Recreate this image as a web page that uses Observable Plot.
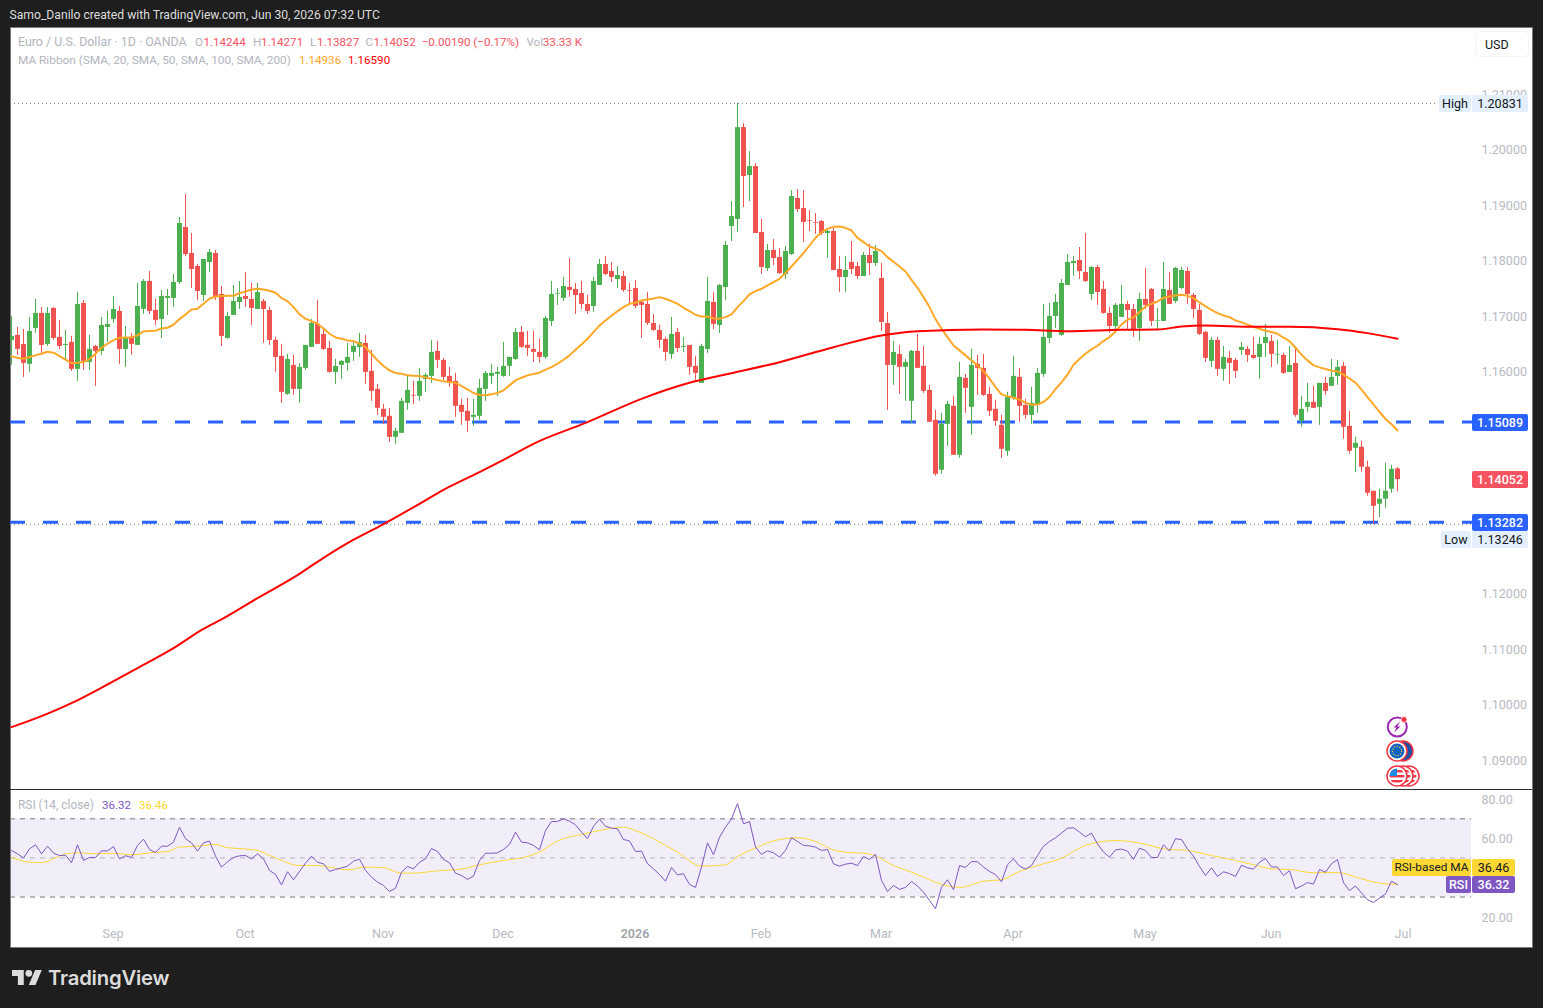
<!DOCTYPE html>
<html><head><meta charset="utf-8">
<script src="https://cdn.jsdelivr.net/npm/d3@7"></script>
<script src="https://cdn.jsdelivr.net/npm/@observablehq/plot@0.6"></script>
<style>
html,body{margin:0;padding:0;background:#1e1e1e;width:1543px;height:1008px;overflow:hidden;font-family:Roboto,sans-serif}
#stage{position:relative;width:1543px;height:1008px}
.abs{position:absolute;white-space:nowrap}
.tag{position:absolute;height:17px;line-height:17px;text-align:center;font-size:12.5px;border-radius:2px;white-space:nowrap}
svg{display:block}
</style></head><body><div id="stage"></div>
<script>
// price series, in units of 0.00001
const high=[116992,116794,116758,116974,117298,117154,117154,117154,116920,116740,116632,117424,117280,116650,116470,116974,117082,117352,117172,116812,116686,117586,117658,117802,117298,117460,117478,117748,118774,119188,118486,117928,118018,118198,118180,117532,117064,117550,117622,117784,117586,117586,117298,117154,116614,116488,116308,116290,116146,116470,116938,117280,116758,116542,116218,116200,116506,116524,116686,116650,116380,115768,115408,115336,114976,115516,115930,115822,116056,115966,116560,116542,116236,116074,115966,115498,115516,115498,115858,116002,116128,116074,116524,116254,116776,116812,116722,116722,116578,116992,117622,117496,117694,118036,117586,117622,117370,117694,118018,118072,117964,117892,117802,117586,117640,117280,117424,117028,116830,116614,116974,116776,116614,116470,116272,116488,117694,117424,117568,118342,119062,120831,120466,119962,119746,118738,118288,118378,118216,118252,119260,119278,119260,118900,118846,118720,118540,118576,118072,118072,118342,117964,118144,118288,118270,117946,117064,116542,116470,116218,116380,116668,116452,115750,115300,115246,115462,115552,116164,115948,116398,116290,116308,115714,115480,115210,115624,116272,116056,115498,115714,116056,117208,117226,117388,117658,118108,118072,118234,118486,117892,117910,117622,117154,117226,117550,117262,117208,117406,117856,117496,117136,117964,117784,117874,117874,117874,117406,117208,116722,116614,116614,116452,116362,116236,116524,116452,116614,116614,116848,116650,116560,116326,116452,116434,115552,115786,115732,115786,115894,116218,116200,116164,115282,114814,114742,114382,113842,113878,114346,114310,114271];
const low=[116110,116290,115894,115984,116686,116308,116452,116560,116398,116200,116002,115822,116020,116020,115732,116290,116524,116866,116128,116074,116290,116470,117028,117028,116830,116596,117010,117154,117568,118072,117496,117280,117262,117784,117280,116452,116578,117010,117118,117154,116830,117118,116506,116470,115984,115426,115570,115570,115426,116020,116434,116488,116380,115966,115768,115858,116002,116182,116254,115768,115462,115210,115048,114724,114688,114886,115300,115408,115462,115624,115786,116056,115840,115714,115174,115030,114904,115012,115120,115462,115768,115552,115894,115912,116200,116416,116272,116164,116146,116218,116812,117190,117262,117334,117028,117118,117028,117064,117550,117730,117604,117496,117424,117226,117136,116596,116830,116722,116416,116182,116218,116344,116344,115930,115840,115786,116326,116758,116686,117280,118342,118504,118954,119062,118486,117748,117802,117910,117748,117658,118090,118864,118324,118522,118468,118450,118036,117820,117424,117424,117748,117658,117712,117730,117892,116722,115300,115750,115588,115462,115060,116056,115606,115084,114112,114148,114652,114490,114436,115246,114850,115570,115552,115192,115012,114436,114472,115480,115084,115138,115048,115246,115894,116506,116776,116632,117550,117712,117658,117604,117280,117190,117028,116686,116722,116974,116758,116614,116542,117118,116812,116758,116902,117208,117226,117478,117208,116956,116650,116164,116074,115912,115822,115768,115876,116290,116164,116218,115858,116254,116074,116128,115948,115984,115174,114994,115264,115336,115030,115570,115732,115750,114778,114508,114184,114184,113752,113246,113368,113536,113806,113827];
const open=[116560,116650,116488,116128,116776,117046,116488,117136,116614,116470,116524,116038,117226,116164,116452,116362,116794,116938,117082,116398,116614,116470,117118,117622,117100,116938,117316,117316,117604,118594,118126,117892,117370,117964,118126,117388,116596,117010,117244,117352,117298,117118,117262,117100,116560,116272,115588,116110,115678,116056,116434,116848,116668,116416,115984,116110,116146,116344,116434,116506,116002,115678,115318,115192,114814,114886,115426,115570,115552,115858,115912,116362,116200,115912,115822,115390,115282,115174,115192,115678,115912,115948,115912,116092,116218,116704,116470,116398,116344,116254,116902,117394,117316,117514,117478,117406,117208,117172,117550,117928,117802,117658,117712,117460,117496,117244,117208,116866,116740,116578,116308,116704,116434,116470,116092,115786,116398,117244,116830,117514,118612,118738,120394,119530,119692,118504,117856,118180,118054,117748,118108,119116,118936,118720,118684,118702,118486,118522,117838,117694,117964,117892,117712,118090,117946,117676,116866,116110,116308,116074,115462,116362,116092,115660,115120,114220,115048,115372,114490,115876,115354,116128,116056,115588,115318,115030,114562,115516,115894,115390,115210,115390,115948,116596,116992,116650,117550,117946,118000,117784,117388,117874,117478,117046,116812,116974,117208,117118,116776,117298,117478,116908,116902,117460,117262,117496,117802,117370,117100,116704,116182,116560,116038,116236,116200,116380,116398,116290,116254,116506,116542,116296,116290,115984,116146,115102,115354,115444,115354,115786,115732,115912,116092,115012,114616,114634,114274,113842,113608,113698,113878,114244];
const close=[116632,116398,116146,116722,117046,116470,117046,116596,116452,116488,116038,117208,116182,116398,116362,116830,116848,117118,116398,116614,116488,117172,117622,117082,116920,117352,117352,117604,118666,118108,117838,117442,118018,118144,117352,116632,116992,117262,117334,117298,117136,117424,117118,116560,116254,115624,116218,115678,116074,116470,116866,116488,116398,115984,116092,116182,116254,116452,116524,115984,115642,115336,115174,114814,114922,115462,115660,115558,115822,115930,116344,116200,115894,115786,115372,115264,115102,115210,115696,115966,115966,115984,116092,116254,116704,116434,116416,116344,116254,116956,117388,117406,117532,117460,117370,117208,117082,117622,117928,117748,117694,117730,117460,117448,117172,117190,116866,116740,116560,116344,116668,116416,116452,116074,115966,116452,117262,116848,117550,118270,118792,120394,119512,119692,118486,117874,118180,118036,117766,118162,119152,118918,118684,118708,118672,118486,118522,117820,117694,117820,117838,117712,118090,117946,118162,116884,116110,116344,116074,116164,116362,116056,115642,115084,114148,115048,115408,114490,115894,115696,116110,116056,115570,115282,115102,114598,115534,115912,115372,115210,115426,115966,116614,116992,117244,117586,117964,117982,117802,117622,117874,117424,117046,116812,117190,117208,117100,116740,117298,117190,116902,116920,117478,117208,117856,117820,117388,117118,116668,116236,116560,116038,116254,116146,116002,116434,116290,116236,116488,116614,116308,116308,115966,116110,115210,115318,115444,115336,115786,115642,115894,116074,114994,114562,114706,114274,113806,113572,113698,113842,114238,114052];
const ma20=[116272,116248,116230,116260,116290,116320,116356,116338,116278,116212,116152,116158,116170,116224,116320,116428,116500,116566,116608,116614,116614,116650,116722,116728,116734,116776,116788,116842,116944,117028,117118,117130,117220,117310,117352,117358,117364,117364,117412,117442,117478,117490,117478,117454,117418,117322,117268,117160,117028,116950,116908,116860,116776,116680,116614,116590,116560,116548,116500,116440,116320,116200,116098,116020,115972,115960,115930,115924,115918,115894,115870,115846,115822,115810,115798,115738,115678,115612,115576,115570,115588,115612,115660,115750,115840,115888,115930,115954,115978,116032,116080,116140,116212,116290,116392,116488,116590,116710,116830,116920,117004,117088,117160,117220,117238,117280,117298,117316,117340,117310,117268,117220,117148,117088,117022,116992,116992,116956,116950,116980,117028,117160,117268,117388,117448,117490,117550,117610,117670,117772,117892,118012,118132,118270,118408,118510,118570,118606,118612,118588,118540,118408,118330,118252,118216,118168,118060,117976,117892,117802,117652,117508,117340,117160,116944,116770,116620,116470,116380,116290,116200,116110,116008,115870,115720,115588,115552,115528,115492,115438,115402,115402,115450,115540,115684,115804,115942,116122,116224,116320,116398,116464,116548,116620,116722,116848,116932,116974,117070,117172,117220,117262,117328,117352,117370,117382,117364,117322,117244,117172,117112,117052,117010,116980,116920,116884,116842,116806,116770,116734,116710,116680,116608,116548,116428,116302,116200,116110,116074,116044,116014,116002,115942,115870,115798,115672,115540,115408,115270,115144,115048,114936];
const ma200Bars=[0,5,10,16,21,27,32,35,41,48,52,56,62,68,72,78,82,87,96,105,113,119,128,137,145,151,162,169,176,185,191,195,199,207,213,221,226,231];
const ma200=[109592,109790,110024,110360,110655,111015,111363,111532,111916,112354,112643,112907,113249,113616,113868,114186,114408,114697,115087,115507,115796,115946,116168,116438,116649,116727,116757,116751,116727,116751,116757,116811,116829,116805,116805,116763,116691,116590];
const rsi=[53.8,52.1,50.0,54.6,56.7,52.1,56.0,52.4,51.2,51.4,47.5,56.7,48.7,50.2,50.2,53.6,53.6,55.8,49.5,51.1,50.2,56.4,59.6,54.3,52.8,56.0,56.0,58.1,65.7,59.8,57.7,53.5,57.7,58.6,50.9,45.3,48.0,50.2,51.1,51.2,49.5,52.1,49.5,43.6,41.5,36.2,42.9,38.8,43.1,47.3,50.9,47.8,47.0,43.1,44.1,44.9,45.8,48.3,49.4,43.6,40.2,37.6,35.9,32.8,34.5,42.7,45.6,44.4,47.8,49.5,54.8,53.3,49.2,47.5,42.2,41.0,39.0,40.7,48.7,52.4,52.4,52.6,54.3,56.9,63.2,58.1,57.7,56.4,54.1,64.0,68.6,68.6,70.0,68.8,66.9,63.2,59.8,66.2,69.8,66.2,65.2,64.9,59.4,58.7,53.3,53.5,47.0,44.4,41.5,38.1,45.1,41.3,41.9,36.4,34.9,45.3,57.7,51.6,60.6,65.7,70.0,77.8,67.4,68.6,55.5,51.8,53.6,52.6,50.4,53.8,60.3,58.4,56.4,56.2,55.5,53.8,54.3,47.0,45.8,46.8,47.3,46.1,50.7,49.2,51.8,38.5,32.8,35.9,33.9,34.9,37.9,35.6,32.5,28.2,24.0,35.0,38.8,33.7,46.1,45.1,48.2,48.0,45.3,43.1,41.5,37.8,46.5,49.5,45.8,44.3,46.1,51.2,56.0,58.4,60.3,62.7,65.2,65.4,63.2,60.8,62.7,57.2,53.0,50.4,54.1,54.5,53.5,49.2,55.0,53.8,50.2,50.2,56.7,53.5,59.8,59.4,54.6,50.9,45.6,41.0,44.9,40.5,42.9,42.0,40.5,46.3,44.9,44.3,47.8,49.7,45.4,45.3,41.0,43.4,34.2,35.6,37.4,36.6,44.1,42.7,47.0,49.2,37.3,33.3,35.6,32.1,28.6,27.2,29.4,31.6,38.1,36.32];
const rsiMaBars=[0,3,5,8,9,11,14,17,20,23,26,28,31,34,36,39,41,44,48,51,53,56,59,62,65,67,71,75,78,82,86,88,91,95,98,102,104,109,111,115,119,121,124,126,129,131,134,137,139,143,147,150,152,154,158,162,165,168,171,175,179,184,189,192,196,200,204,207,210,213,217,221,225,228,231];
const rsiMa=[50.2,47.8,47.6,50.9,52.1,52.6,52.1,52.4,51.6,52.6,53.3,55.5,56.0,56.9,55.2,54.6,53.8,50.0,46.1,46.1,45.3,43.9,45.3,45.0,42.2,42.2,43.4,44.3,46.5,48.7,50.7,53.0,58.7,62.0,64.0,65.7,64.0,56.4,53.0,45.8,46.5,50.7,55.0,57.7,59.9,60.3,58.4,54.0,53.0,52.0,46.1,42.7,40.2,37.6,34.9,38.1,38.8,43.1,46.1,49.9,56.4,58.9,57.0,54.6,53.8,51.2,48.7,46.5,44.4,44.1,42.4,42.5,39.3,37.1,36.46];
const priceTicks=[1.21,1.20,1.19,1.18,1.17,1.16,1.12,1.11,1.10,1.09];
const rsiTicks=[80,60,20];
const monthBars=[17,39,62,82,125,145,167,189,210,232];
const monthNames=["Sep","Oct","Nov","Dec","Feb","Mar","Apr","May","Jun","Jul"];
const yearBars=[104];
const keyLevels=[1.15089,1.13282];
const allHigh=1.20831, allLow=1.13246, lastClose=1.14052;

const UP="#4caf50", DOWN="#ef5350", AXIS="#b8bac2", FONT="Roboto,sans-serif";
const bars=high.map((h,i)=>({i,high:h/1e5,low:low[i]/1e5,open:open[i]/1e5,close:close[i]/1e5,ma:ma20[i]/1e5,rsi:rsi[i]}));
const colour=d=>d.close>=d.open?UP:DOWN;
const W=1522, xScale={type:"linear",domain:[-1/6,(W-1)/6],range:[0,W]};
const xAt=px=>(px-1)/6;            // horizontal anchor on the bar axis (pane px)
const LEFT=xAt(0);

const stage=document.getElementById("stage");
function div(css,html){const d=document.createElement("div");d.className="abs";d.style.cssText+=css;d.innerHTML=html;stage.appendChild(d);return d;}
function place(el,l,t){el.style.position="absolute";el.style.left=l+"px";el.style.top=t+"px";stage.appendChild(el);}
function tag(text,l,w,cy,bg,fg,weight,size){const d=document.createElement("div");d.className="tag";d.textContent=text;
 d.style.cssText+=`left:${l}px;width:${w}px;top:${cy-8.5}px;background:${bg};color:${fg};font-weight:${weight||400};font-size:${size||12.5}px`;stage.appendChild(d);}
function seg(l,cy,text,color,size){div(`left:${l}px;top:${cy-8}px;line-height:16px;font-size:${size}px;color:${color}`,text);}

// frame
div("left:10px;top:27px;width:1521px;height:919px;background:#fff;border:1px solid #7b7b7b;box-sizing:content-box","");
div("left:10px;top:789px;width:1522px;height:1px;background:#2a2e39","");

const main=Plot.plot({width:W,height:762,marginLeft:0,marginTop:0,marginBottom:0,marginRight:51,
 style:{background:"transparent",fontFamily:FONT},
 x:{...xScale,axis:null},
 y:{type:"linear",domain:[1.08468,1.22198],range:[762,0],axis:null},
 marks:[
  Plot.axisY(priceTicks,{anchor:"right",tickSize:0,tickPadding:0,dy:1,tickFormat:d=>d.toFixed(5),fontSize:12.5,fill:AXIS,label:null}),
  Plot.ruleY([allHigh],{x1:LEFT,x2:xAt(1428),stroke:"#787b86",strokeWidth:1,strokeDasharray:"1 3"}),
  Plot.ruleY([allLow],{x1:LEFT,x2:xAt(1461),stroke:"#787b86",strokeWidth:1,strokeDasharray:"1 3"}),
  Plot.ruleY(keyLevels,{x1:LEFT,x2:xAt(1462),stroke:"#2962ff",strokeWidth:3,strokeDasharray:"15 18"}),
  Plot.ruleX(bars,{x:"i",y1:"low",y2:"high",stroke:colour,strokeWidth:1}),
  Plot.ruleX(bars,{x:"i",y1:"open",y2:"close",stroke:colour,strokeWidth:5}),
  Plot.line(bars,{x:"i",y:"ma",stroke:"#ffa726",strokeWidth:2}),
  Plot.line(ma200,{x:(d,i)=>ma200Bars[i],y:d=>d/1e5,stroke:"#ff0000",strokeWidth:2,curve:"monotone-x"})
 ]});
place(main,10,27);

const pane=Plot.plot({width:W,height:157,marginLeft:0,marginTop:0,marginBottom:18,marginRight:51,
 style:{background:"transparent",fontFamily:FONT},
 x:{...xScale,axis:null},
 y:{type:"linear",domain:[4.17,84.48],range:[157,0],axis:null},
 marks:[
  Plot.rect([0],{x1:LEFT,x2:xAt(1461),y1:30,y2:70,fill:"#7e57c2",fillOpacity:0.1}),
  Plot.ruleY([70,30],{x1:LEFT,x2:xAt(1461),stroke:"#787b86",strokeWidth:1,strokeDasharray:"5 5"}),
  Plot.ruleY([50],{x1:LEFT,x2:xAt(1461),stroke:"#787b86",strokeOpacity:0.5,strokeWidth:1,strokeDasharray:"5 5"}),
  Plot.axisY(rsiTicks,{anchor:"right",tickSize:0,tickPadding:0,dy:1,tickFormat:d=>d.toFixed(2),fontSize:12.5,fill:AXIS,label:null}),
  Plot.axisX(monthBars,{anchor:"bottom",tickSize:0,tickPadding:0,dx:-0.5,tickFormat:d=>monthNames[monthBars.indexOf(d)],fontSize:12.5,fill:AXIS,label:null}),
  Plot.axisX(yearBars,{anchor:"bottom",tickSize:0,tickPadding:0,dx:-0.5,tickFormat:()=>"2026",fontSize:12.5,fontWeight:600,fill:"#a0a2aa",label:null}),
  Plot.line(rsiMa,{x:(d,i)=>rsiMaBars[i],y:d=>d,stroke:"#fdd835",strokeWidth:1,curve:"monotone-x"}),
  Plot.line(bars,{x:"i",y:"rsi",stroke:"#7e57c2",strokeWidth:1})
 ]});
place(pane,10,790);

// price tags follow the scales
const yP=p=>27+main.scale("y").apply(p), yR=v=>790+pane.scale("y").apply(v);
const LBL="#e3effd",INK="#131722";
tag("High",1439,32,yP(allHigh)+.6,LBL,INK); tag(allHigh.toFixed(5),1472,56,yP(allHigh)+.6,LBL,INK);
tag(keyLevels[0].toFixed(5),1472,56,yP(keyLevels[0])+.8,"#2962ff","#fff",500);
tag(lastClose.toFixed(5),1472,56,yP(lastClose)+.8,"#f7525f","#fff",500);
tag(keyLevels[1].toFixed(5),1472,56,yP(keyLevels[1])+.8,"#2962ff","#fff",500);
tag("Low",1441,30,yP(allLow)+16,LBL,INK); tag(allLow.toFixed(5),1472,56,yP(allLow)+16,LBL,INK);
tag("RSI-based MA",1392,79,yR(36.46)-16.4,"#fdd835",INK,400,11.8); tag("36.46",1472,43,yR(36.46)-16.4,"#fdd835",INK);
tag("RSI",1446,25,yR(36.32)+.5,"#7e57c2","#fff",500); tag("36.32",1472,43,yR(36.32)+.5,"#7e57c2","#fff",500);

// texts
const G="#b2b5be",R="#f7525f",N=11.6;
div("left:9.5px;top:7px;font-size:12.15px;color:#dcdcdc;line-height:16px","Samo_Danilo created with TradingView.com, Jun 30, 2026 07:32 UTC");
seg(18,41.5,"Euro / U.S. Dollar · 1D · OANDA",G,12.4);
seg(195,41.5,"O",G,N); seg(203.5,41.5,"1.14244",R,N);
seg(253,41.5,"H",G,N); seg(261,41.5,"1.14271",R,N);
seg(310,41.5,"L",G,N); seg(317,41.5,"1.13827",R,N);
seg(365.5,41.5,"C",G,N); seg(373.5,41.5,"1.14052",R,N);
seg(421.7,41.5,"−0.00190 (−0.17%)",R,N);
seg(526.5,41.5,"Vol",G,N); seg(542.7,41.5,"33.33 K",R,N);
seg(18,59.5,"MA Ribbon (SMA, 20, SMA, 50, SMA, 100, SMA, 200)",G,11.83);
seg(299,59.5,"1.14936","#ffa726",N); seg(348,59.5,"1.16590","#ff0000",N);
seg(18,805,"RSI (14, close)",G,11.9);
seg(102,805,"36.32","#7e57c2",N); seg(139,805,"36.46","#fdd835",N);
div("left:1475px;top:31px;width:54px;height:26px;box-sizing:border-box;border:1px solid #f0f3fa;border-radius:5px;background:#fff;color:#131722;font-size:12.5px;line-height:26px;padding-left:9px","USD");

// event icons and logo
const ns=`xmlns="http://www.w3.org/2000/svg"`;
const flagUS=(cx)=>`<g><circle cx="${cx}" cy="776" r="10" fill="#fff" stroke="#f23645" stroke-width="1.5"/><clipPath id="u${cx}"><circle cx="${cx}" cy="776" r="7.5"/></clipPath><g clip-path="url(#u${cx})"><rect x="${cx-8}" y="768" width="16" height="16" fill="#fff"/><rect x="${cx-8}" y="770" width="16" height="2.4" fill="#f23645"/><rect x="${cx-8}" y="775" width="16" height="2.4" fill="#f23645"/><rect x="${cx-8}" y="780" width="16" height="2.4" fill="#f23645"/><rect x="${cx-8}" y="768" width="8" height="8" fill="#1e88e5"/></g></g>`;
const overlay=document.createElement("div");overlay.className="abs";overlay.style.cssText+="left:0;top:0";
overlay.innerHTML=`<svg ${ns} width="1543" height="1008" style="position:absolute;left:0;top:0;pointer-events:none">
<circle cx="1397.3" cy="727" r="9.5" fill="#fff" stroke="#9c27b0" stroke-width="2"/>
<path d="M1400 721.5l-6.5 6h3l-2.5 5 6.5-6h-3z" fill="#9c27b0"/>
<circle cx="1404" cy="719.5" r="3" fill="#f23645" stroke="#fff" stroke-width=".7"/>
<circle cx="1403" cy="751" r="10" fill="#1e4fa3" stroke="#f23645" stroke-width="1.5"/>
<circle cx="1397" cy="751" r="10" fill="#fff" stroke="#f23645" stroke-width="1.5"/>
<circle cx="1397" cy="751" r="7.5" fill="#1565c0"/>
<circle cx="1397" cy="751" r="4.6" fill="none" stroke="#fdd835" stroke-width="1.2" stroke-dasharray="1 1.6"/>
${flagUS(1409)}${flagUS(1403)}${flagUS(1397)}
<g transform="translate(12,970) scale(.84)" fill="#dcdcdc"><path d="M14 18H7V7H0V0h14v18zM28 18h-8l7.5-18h8L28 18z"/><circle cx="20" cy="4" r="4"/></g>
</svg>`;
stage.appendChild(overlay);
div("left:48px;top:965px;font-family:Inter,sans-serif;font-weight:600;font-size:20.3px;line-height:26px;color:#dcdcdc;letter-spacing:-.2px","TradingView");
</script></body></html>
